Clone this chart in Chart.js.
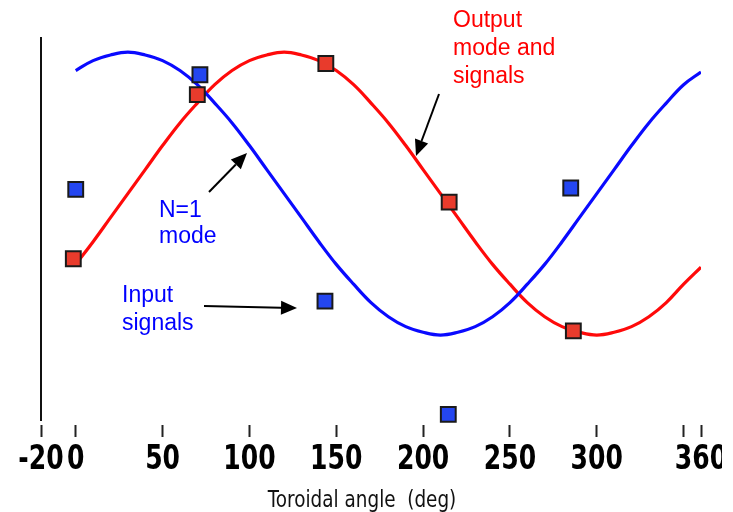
<!DOCTYPE html>
<html>
<head>
<meta charset="utf-8">
<script src="https://cdn.jsdelivr.net/npm/chart.js@4.4.1/dist/chart.umd.min.js"></script>
<style>
  html, body { margin: 0; padding: 0; background: #fff; }
  #wrap { width: 733px; height: 512px; }
</style>
</head>
<body>
<div id="wrap"><canvas id="c"></canvas></div>
<script>
// toroidal angle (deg) for the fitted mode curves
const angles = [0, 10, 20, 30, 40, 50, 60, 70, 80, 90, 100, 110, 120, 130, 140, 150, 160, 170, 180,
                190, 200, 210, 220, 230, 240, 250, 260, 270, 280, 290, 300, 310, 320, 330, 340, 350, 360];
// N=1 mode (blue)
const n1Mode = [0.87, 0.94, 0.98, 1.00, 0.98, 0.94, 0.87, 0.77, 0.64, 0.50, 0.34, 0.17, 0.00, -0.17,
                -0.34, -0.50, -0.64, -0.77, -0.87, -0.94, -0.98, -1.00, -0.98, -0.94, -0.87, -0.77,
                -0.64, -0.50, -0.34, -0.17, 0.00, 0.17, 0.34, 0.50, 0.64, 0.77, 0.86];
// output mode (red)
const outputMode = [-0.50, -0.34, -0.17, 0.00, 0.17, 0.34, 0.50, 0.64, 0.77, 0.87, 0.94, 0.98, 1.00,
                    0.98, 0.94, 0.87, 0.77, 0.64, 0.50, 0.34, 0.17, 0.00, -0.17, -0.34, -0.50, -0.64,
                    -0.77, -0.87, -0.94, -0.98, -1.00, -0.98, -0.94, -0.87, -0.77, -0.64, -0.52];

// sensor signals
const inputAngles = [0, 71.5, 143.5, 214.5, 285];
const inputSignals = [0.03, 0.84, -0.76, -1.56, 0.04];
const outputAngles = [-1.4, 70, 144, 215, 286.5];
const outputSignals = [-0.46, 0.70, 0.92, -0.06, -0.97];

const xTicks = [-20, 0, 50, 100, 150, 200, 250, 300, 350, 360];
const xTickLabels = ['-20', '0', '50', '100', '150', '200', '250', '300', '', '360'];
const xTitle = 'Toroidal angle  (deg)';

const toXY = (xs, ys) => xs.map((x, i) => ({ x, y: ys[i] }));

// text + arrows drawn on top, in canvas pixels
const notes = [
    { lines: ['Output', 'mode and', 'signals'], color: '#ff0000', x: 453, y: 27, step: 28 },
    { lines: ['N=1', 'mode'], color: '#0000ff', x: 159, y: 217, step: 26 },
    { lines: ['Input', 'signals'], color: '#0000ff', x: 122, y: 302, step: 28 }
];
const arrows = [ [439, 94, 416, 156], [209, 192, 247, 153], [204, 306, 297, 308] ];

// the axis text in the original is a squeezed bold sans; draw it narrowed
function squeezedText (ctx, text, x, y, sx) {
    ctx.save();
    ctx.translate(x, y);
    ctx.scale(sx, 1);
    ctx.fillText(text, 0, 0);
    ctx.restore();
}

const axisTextPlugin = {
    id: 'axisText',
    afterDraw (chart) {
        const ctx = chart.ctx;
        const xs = chart.scales.x;
        ctx.save();
        ctx.beginPath();
        ctx.rect(0, 0, 722, chart.height);
        ctx.clip();
        ctx.fillStyle = '#000';
        ctx.textAlign = 'center';
        ctx.textBaseline = 'alphabetic';
        ctx.font = 'bold 33px "DejaVu Sans", sans-serif';
        xTicks.forEach((v, i) => {
            squeezedText(ctx, xTickLabels[i], xs.getPixelForValue(v), 469, 0.76);
        });
        ctx.fillStyle = '#111';
        ctx.font = '23px "DejaVu Sans", sans-serif';
        squeezedText(ctx, xTitle, 362, 507, 0.8);
        ctx.restore();
    }
};

const notesPlugin = {
    id: 'notes',
    afterDraw (chart) {
        const ctx = chart.ctx;
        ctx.save();
        ctx.font = '23px "Liberation Sans", Arial, sans-serif';
        ctx.textAlign = 'left';
        ctx.textBaseline = 'alphabetic';
        notes.forEach(n => {
            ctx.fillStyle = n.color;
            n.lines.forEach((t, i) => ctx.fillText(t, n.x, n.y + i * n.step));
        });
        ctx.strokeStyle = '#000';
        ctx.fillStyle = '#000';
        ctx.lineWidth = 2;
        arrows.forEach(([x1, y1, x2, y2]) => {
            const a = Math.atan2(y2 - y1, x2 - x1);
            const len = 16, half = 7;
            const bx = x2 - len * Math.cos(a), by = y2 - len * Math.sin(a);
            ctx.beginPath();
            ctx.moveTo(x1, y1);
            ctx.lineTo(bx, by);
            ctx.stroke();
            ctx.beginPath();
            ctx.moveTo(x2, y2);
            ctx.lineTo(bx + half * Math.sin(a), by - half * Math.cos(a));
            ctx.lineTo(bx - half * Math.sin(a), by + half * Math.cos(a));
            ctx.closePath();
            ctx.fill();
        });
        ctx.restore();
    }
};

new Chart(document.getElementById('c'), {
    type: 'scatter',
    data: {
        datasets: [
            {
                data: toXY(inputAngles, inputSignals),
                pointStyle: 'rect', pointRadius: 10.5, pointHoverRadius: 10.5,
                backgroundColor: '#2446f0', borderColor: '#1a1a1a', borderWidth: 2,
                showLine: false, clip: false, order: 1
            },
            {
                data: toXY(outputAngles, outputSignals),
                pointStyle: 'rect', pointRadius: 10.5, pointHoverRadius: 10.5,
                backgroundColor: '#e83b2c', borderColor: '#1a1a1a', borderWidth: 2,
                showLine: false, clip: false, order: 1
            },
            {
                data: toXY(angles, n1Mode),
                showLine: true, tension: 0.4, pointRadius: 0,
                borderColor: '#0a0aff', borderWidth: 3.2, order: 2
            },
            {
                data: toXY(angles, outputMode),
                showLine: true, tension: 0.4, pointRadius: 0,
                borderColor: '#ff0a0a', borderWidth: 3.2, order: 2
            }
        ]
    },
    options: {
        responsive: true,
        maintainAspectRatio: false,
        animation: false,
        devicePixelRatio: 1,
        layout: { padding: { top: 38, right: 32, left: 40, bottom: 0 } },
        plugins: { legend: { display: false }, tooltip: { enabled: false } },
        scales: {
            x: {
                type: 'linear',
                min: -20,
                max: 360,
                afterBuildTicks: (s) => { s.ticks = xTicks.map(v => ({ value: v })); },
                afterFit: (s) => { s.height = 92; },
                border: { display: false },
                grid: {
                    drawOnChartArea: false,
                    drawTicks: true,
                    tickLength: 17,
                    tickColor: '#222',
                    tickWidth: 2,
                    tickBorderDash: [0, 5, 12, 40]
                },
                ticks: { display: false },
                title: { display: false }
            },
            y: {
                min: -1.6,
                max: 1.1,
                afterFit: (s) => { s.width = 1; },
                border: { display: true, color: '#111', width: 2 },
                grid: { display: false },
                ticks: { display: false }
            }
        }
    },
    plugins: [notesPlugin, axisTextPlugin]
});
</script>
</body>
</html>
